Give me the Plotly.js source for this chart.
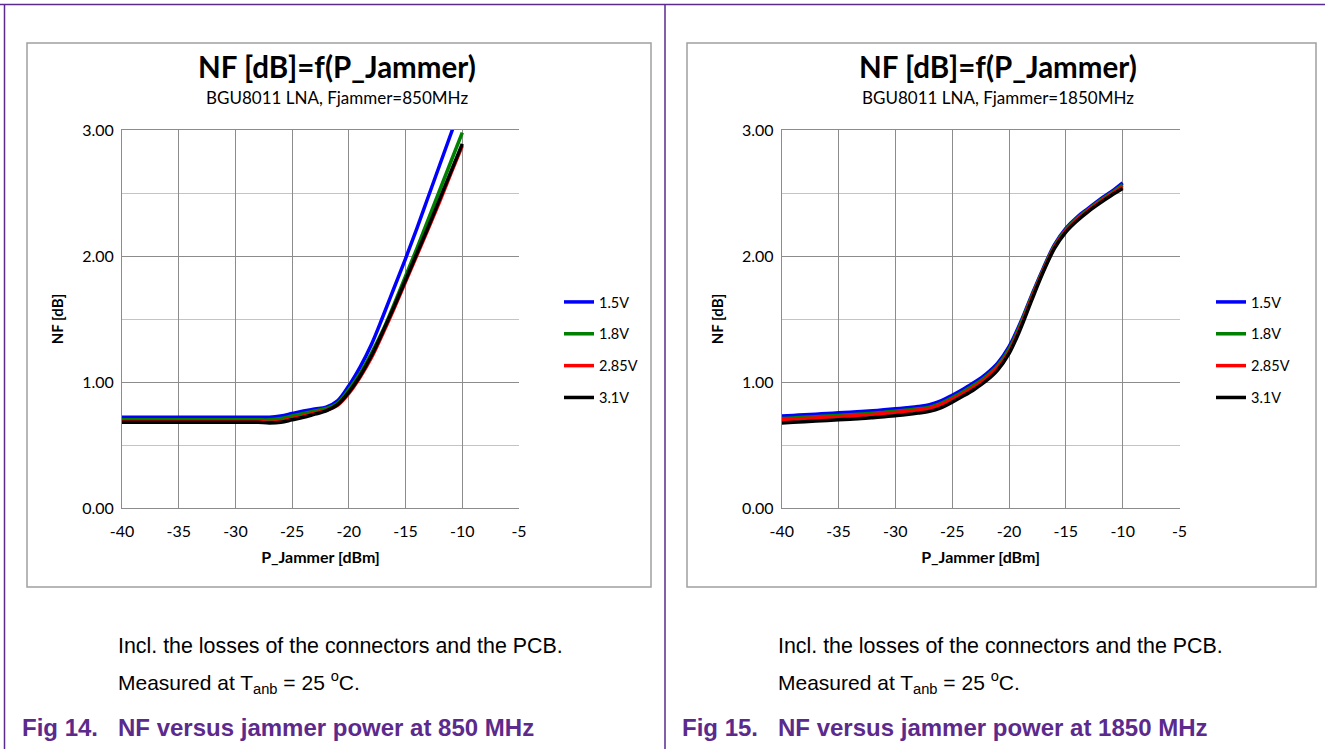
<!DOCTYPE html>
<html>
<head>
<meta charset="utf-8">
<script src="https://cdn.plot.ly/plotly-3.0.1.min.js"></script>
<style>
  html, body { margin: 0; padding: 0; background: #ffffff; }
  #chart { width: 1325px; height: 749px; }
</style>
</head>
<body>
<div id="chart"></div>
<script>
// ---------------- DATA ----------------
const pJammer = [-40,-39,-38,-37,-36,-35,-34,-33,-32,-31,-30,-29,-28,-27,-26,-25,-24,-23,-22,-21,-20,-19,-18,-17,-16,-15,-14,-13,-12,-11,-10];

const seriesNames = ['1.5V', '1.8V', '2.85V', '3.1V'];

// Fig 14: Fjammer = 850 MHz
const nf850_1v5  = [0.72,0.72,0.72,0.72,0.72,0.72,0.72,0.72,0.72,0.72,0.72,0.72,0.72,0.72,0.73,0.75,0.77,0.785,0.80,0.85,0.97,1.12,1.30,1.52,1.75,1.98,2.22,2.47,2.72,2.97,3.22];
const nf850_1v8  = [0.70,0.70,0.70,0.70,0.70,0.70,0.70,0.70,0.70,0.70,0.70,0.70,0.70,0.70,0.71,0.73,0.75,0.77,0.79,0.83,0.94,1.07,1.23,1.41,1.62,1.84,2.06,2.29,2.52,2.75,2.98];
const nf850_2v85 = [0.69,0.69,0.69,0.69,0.69,0.69,0.69,0.69,0.69,0.69,0.69,0.69,0.69,0.68,0.69,0.71,0.73,0.755,0.775,0.815,0.91,1.04,1.195,1.385,1.585,1.795,2.005,2.215,2.43,2.655,2.875];
const nf850_3v1  = [0.68,0.68,0.68,0.68,0.68,0.68,0.68,0.68,0.68,0.68,0.68,0.68,0.68,0.675,0.68,0.70,0.72,0.745,0.77,0.82,0.92,1.05,1.21,1.40,1.60,1.81,2.02,2.23,2.45,2.67,2.89];

// Fig 15: Fjammer = 1850 MHz
const nf1850_1v5  = [0.73,0.735,0.74,0.745,0.75,0.755,0.76,0.766,0.772,0.779,0.787,0.796,0.806,0.82,0.85,0.895,0.945,1.00,1.065,1.15,1.28,1.47,1.69,1.90,2.09,2.22,2.31,2.38,2.45,2.51,2.58];
const nf1850_1v8  = [0.71,0.715,0.72,0.725,0.73,0.735,0.74,0.746,0.752,0.76,0.768,0.777,0.787,0.80,0.83,0.875,0.925,0.98,1.045,1.13,1.26,1.455,1.68,1.89,2.08,2.21,2.30,2.37,2.44,2.50,2.565];
const nf1850_2v85 = [0.70,0.705,0.71,0.715,0.72,0.725,0.73,0.736,0.742,0.75,0.758,0.767,0.777,0.79,0.82,0.862,0.91,0.965,1.03,1.115,1.24,1.435,1.665,1.88,2.07,2.20,2.29,2.365,2.43,2.49,2.55];
const nf1850_3v1  = [0.675,0.68,0.685,0.69,0.695,0.70,0.705,0.71,0.717,0.725,0.733,0.742,0.753,0.767,0.795,0.84,0.89,0.945,1.01,1.095,1.225,1.42,1.65,1.87,2.06,2.19,2.28,2.355,2.42,2.48,2.535];

const xTickVals   = [-40,-35,-30,-25,-20,-15,-10,-5];
const xTickLabels = ['-40','-35','-30','-25','-20','-15','-10','-5'];
const yTickVals   = [0,1,2,3];
const yTickLabels = ['0.00','1.00','2.00','3.00'];

const chartTitle = 'NF [dB]=f(P_Jammer)';
const subTitles = ['BGU8011 LNA, Fjammer=850MHz', 'BGU8011 LNA, Fjammer=1850MHz'];
const xTitle = 'P_Jammer [dBm]';
const yTitle = 'NF [dB]';
const noteLine1 = 'Incl. the losses of the connectors and the PCB.';
const noteLine2 = 'Measured at T<sub>anb</sub> = 25 <sup>o</sup>C.';
const figLabels = ['Fig 14.', 'Fig 15.'];
const figCaptions = ['NF versus jammer power at 850 MHz', 'NF versus jammer power at 1850 MHz'];

// ---------------- LAYOUT HELPERS ----------------
const W = 1325, H = 749;
const px = x => x / W;
const py = y => 1 - y / H;
const colors = ['#0000ff', '#008000', '#ff0000', '#000000'];
const purple = '#5b2a8c';
const chartFont = 'Lato, "Open Sans", sans-serif';
const docFont = '"Liberation Sans", Arial, sans-serif';

const sets = [
  {ys: [nf850_1v5, nf850_1v8, nf850_2v85, nf850_3v1], xa: 'x', ya: 'y', lg: 'legend'},
  {ys: [nf1850_1v5, nf1850_1v8, nf1850_2v85, nf1850_3v1], xa: 'x2', ya: 'y2', lg: 'legend2'}
];

const traces = [];
sets.forEach((s, si) => {
  s.ys.forEach((yv, i) => {
    traces.push({
      type: 'scatter', mode: 'lines',
      x: pJammer, y: yv,
      name: seriesNames[i],
      xaxis: s.xa, yaxis: s.ya, legend: s.lg,
      legendgroup: 'g' + si + '_' + i,
      line: {color: colors[i], width: 3.5, shape: 'spline', smoothing: 1},
      hoverinfo: 'skip'
    });
  });
});

function xAxis(domain, anchor) {
  return {
    domain: domain, anchor: anchor, range: [-40, -5],
    tickmode: 'array', tickvals: xTickVals, ticktext: xTickLabels,
    showgrid: true, gridcolor: '#8c8c8c', gridwidth: 1,
    showline: true, linecolor: '#8c8c8c', linewidth: 1, mirror: true,
    zeroline: false, ticks: '', ticklabelstandoff: 9,
    tickfont: {family: chartFont, size: 16, color: '#000'},
    title: {text: '<b>' + xTitle + '</b>', font: {family: chartFont, size: 16, color: '#000'}, standoff: 12},
    fixedrange: true
  };
}
function yAxis(domain, anchor) {
  return {
    domain: domain, anchor: anchor, range: [0, 3],
    tickmode: 'array', tickvals: yTickVals, ticktext: yTickLabels,
    showgrid: true, gridcolor: '#8c8c8c', gridwidth: 1,
    minor: {dtick: 0.5, showgrid: true, gridcolor: '#c4c4c4', gridwidth: 1, ticks: ''},
    showline: true, linecolor: '#8c8c8c', linewidth: 1,
    zeroline: false, ticks: '', ticklabelstandoff: 4,
    tickfont: {family: chartFont, size: 16, color: '#000'},
    title: {text: '<b>' + yTitle + '</b>', font: {family: chartFont, size: 15, color: '#000'}, standoff: 14},
    fixedrange: true
  };
}

const yDom = [py(508), py(130)];

const annotations = [];
const chartCenters = [337, 998];
const textLeft = [116, 776];
const figLeft = [20, 680];
for (let k = 0; k < 2; k++) {
  annotations.push({xref: 'paper', yref: 'paper', x: px(chartCenters[k]), y: py(67), xanchor: 'center', yanchor: 'middle',
    text: '<b>' + chartTitle + '</b>', showarrow: false, font: {family: chartFont, size: 29.5, color: '#000'}});
  annotations.push({xref: 'paper', yref: 'paper', x: px(chartCenters[k]), y: py(97), xanchor: 'center', yanchor: 'middle',
    text: subTitles[k], showarrow: false, font: {family: chartFont, size: 17, color: '#000'}});
  annotations.push({xref: 'paper', yref: 'paper', x: px(textLeft[k]), y: py(646), xanchor: 'left', yanchor: 'middle',
    text: noteLine1, showarrow: false, font: {family: docFont, size: 21.4, color: '#000'}});
  annotations.push({xref: 'paper', yref: 'paper', x: px(textLeft[k]), y: py(682), xanchor: 'left', yanchor: 'middle',
    text: noteLine2, showarrow: false, font: {family: docFont, size: 21, color: '#000'}});
  annotations.push({xref: 'paper', yref: 'paper', x: px(figLeft[k]), y: py(727), xanchor: 'left', yanchor: 'middle',
    text: '<b>' + figLabels[k] + '</b>', showarrow: false, font: {family: docFont, size: 24, color: purple}});
  annotations.push({xref: 'paper', yref: 'paper', x: px(textLeft[k]), y: py(727), xanchor: 'left', yanchor: 'middle',
    text: '<b>' + figCaptions[k] + '</b>', showarrow: false, font: {family: docFont, size: 24, color: purple}});
}

const shapes = [
  // page borders
  {type: 'line', xref: 'paper', yref: 'paper', x0: px(0), x1: px(W), y0: py(4.5), y1: py(4.5), line: {color: purple, width: 1.5}},
  {type: 'line', xref: 'paper', yref: 'paper', x0: px(4.5), x1: px(4.5), y0: py(4.5), y1: py(H), line: {color: purple, width: 1.5}},
  {type: 'line', xref: 'paper', yref: 'paper', x0: px(665), x1: px(665), y0: py(4.5), y1: py(H), line: {color: purple, width: 1.5}},
  // chart frames
  {type: 'rect', xref: 'paper', yref: 'paper', x0: px(27), x1: px(651), y0: py(587), y1: py(43), line: {color: '#a0a0a0', width: 1.5}},
  {type: 'rect', xref: 'paper', yref: 'paper', x0: px(687), x1: px(1316), y0: py(587), y1: py(43), line: {color: '#a0a0a0', width: 1.5}}
];

const legendBase = {
  bgcolor: 'rgba(0,0,0,0)', borderwidth: 0,
  font: {family: chartFont, size: 14.5, color: '#000'},
  traceorder: 'grouped', tracegroupgap: 10,
  xanchor: 'left', yanchor: 'top', itemclick: false, itemdoubleclick: false
};

const layout = {
  width: W, height: H,
  margin: {l: 0, r: 0, t: 0, b: 0},
  paper_bgcolor: '#ffffff', plot_bgcolor: '#ffffff',
  showlegend: true,
  xaxis: xAxis([px(122), px(519)], 'y'),
  yaxis: yAxis(yDom, 'x'),
  xaxis2: xAxis([px(781.7), px(1179.5)], 'y2'),
  yaxis2: yAxis(yDom, 'x2'),
  legend: Object.assign({}, legendBase, {x: px(559), y: py(286)}),
  legend2: Object.assign({}, legendBase, {x: px(1211), y: py(286)}),
  annotations: annotations,
  shapes: shapes
};

Plotly.newPlot('chart', traces, layout, {staticPlot: true, displayModeBar: false});
</script>
</body>
</html>
